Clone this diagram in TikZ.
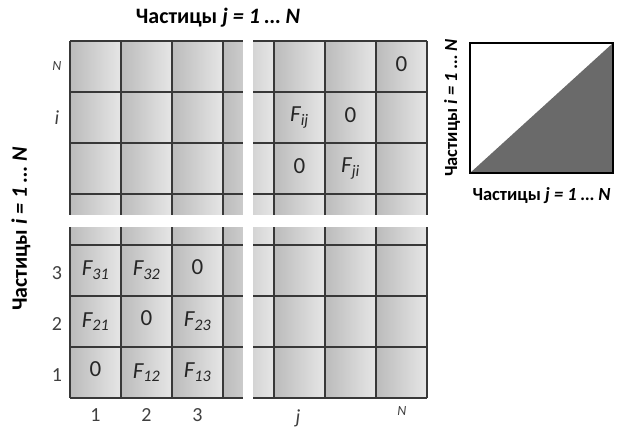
\documentclass[tikz,border=0pt]{standalone}
\usepackage{fontspec}
\setmainfont{Carlito}
\begin{document}
\begin{tikzpicture}[x=1pt,y=-1pt,
  gridline/.style={draw=black!78,line width=1.3pt},
  gapband/.style={fill=white,draw=none},
  cell/.style={font=\fontsize{23}{23}\selectfont,inner sep=0pt,text=black!85},
  axislab/.style={font=\fontsize{20}{20}\selectfont,inner sep=0pt,text=black!75},
  smalllab/.style={font=\fontsize{14}{14}\selectfont\itshape,inner sep=0pt,text=black!75},
  caption/.style={font=\fontsize{22}{22}\selectfont\bfseries,inner sep=0pt},
  smallcap/.style={font=\fontsize{18.5}{18.5}\selectfont\bfseries,inner sep=0pt}]
\definecolor{celldark}{HTML}{BBBBBB}
\definecolor{celllight}{HTML}{E6E6E6}
\definecolor{tri}{HTML}{6A6A6A}
\useasboundingbox (0,0) rectangle (622,429);

% shaded columns of the 7x7 grid
\foreach \c in {0,...,6}
  \shade[left color=celldark,right color=celllight]
    ({70+51*\c},41) rectangle ({70+51*(\c+1)},398);
% grid lines
\foreach \k in {0,...,7} {
  \draw[gridline] ({70+51*\k},41) -- ({70+51*\k},398);
  \draw[gridline] (70,{41+51*\k}) -- (427,{41+51*\k});
}
% white bands that split the matrix
\fill[gapband] (243,39) rectangle (253,400);
\fill[gapband] (68,215) rectangle (429,227);

% upper right part
\node[cell] (nN) at (401.5,64) {0};
\node[cell] (fij) at (299.5,117.5) {\itshape F\textsubscript{ij}};
\node[cell] (zij) at (350.5,115) {0};
\node[cell] (zji) at (299.5,166) {0};
\node[cell] (fji) at (350.5,168.5) {\itshape F\textsubscript{ji}};

% lower left part
\node[cell] (f31) at (95.5,270.5) {\itshape F\textsubscript{31}};
\node[cell] (f32) at (146.5,270.5) {\itshape F\textsubscript{32}};
\node[cell] (z33) at (197.5,267) {0};
\node[cell] (f21) at (95.5,321.5) {\itshape F\textsubscript{21}};
\node[cell] (z22) at (146.5,318) {0};
\node[cell] (f23) at (197.5,321.5) {\itshape F\textsubscript{23}};
\node[cell] (z11) at (95.5,369) {0};
\node[cell] (f12) at (146.5,372.5) {\itshape F\textsubscript{12}};
\node[cell] (f13) at (197.5,372.5) {\itshape F\textsubscript{13}};

% row indices
\node[smalllab] (rN) at (57,66) {N};
\node[axislab,font=\fontsize{20}{20}\selectfont\itshape] (ri) at (57,118) {i};
\node[axislab] (r3) at (57,273) {3};
\node[axislab] (r2) at (57,324) {2};
\node[axislab] (r1) at (57,375) {1};
% column indices
\node[axislab] (c1) at (95.5,415) {1};
\node[axislab] (c2) at (146.5,415) {2};
\node[axislab] (c3) at (197.5,415) {3};
\node[axislab,font=\fontsize{20}{20}\selectfont\itshape] (cj) at (298,418) {j};
\node[smalllab] (cN) at (402,411) {N};

% axis captions
\node[caption] (top) at (218,18) {Частицы \textit{j = 1 … N}};
\node[caption,rotate=90] (left) at (21,229) {Частицы \textit{i = 1 … N}};

% small triangle sketch
\coordinate (bl) at (470,173);
\coordinate (tr) at (613,43);
\fill[tri] (bl) -- (tr) -- (613,173) -- cycle;
\draw[line width=1.8pt] (bl) rectangle (tr);
\node[smallcap] (sb) at (541.5,196) {Частицы \textit{j = 1 … N}};
\node[smallcap,rotate=90] (sl) at (452,108) {Частицы \textit{i = 1 … N}};
\end{tikzpicture}
\end{document}
